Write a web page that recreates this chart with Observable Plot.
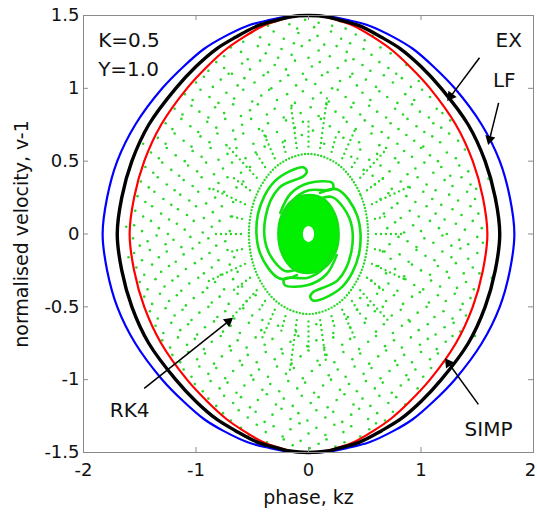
<!DOCTYPE html>
<html><head><meta charset="utf-8">
<script src="https://cdn.jsdelivr.net/npm/d3@7"></script>
<script src="https://cdn.jsdelivr.net/npm/@observablehq/plot@0.6"></script>
<style>body{margin:0;background:#fff}#chart svg{display:block}</style>
</head><body><div id="chart"></div>
<script>
const xTicks = [-2, -1, 0, 1, 2];
const yTicks = [-1.5, -1, -0.5, 0, 0.5, 1, 1.5];

// closed orbits: half-width (|phase|) read at each velocity level
const yLevels = [1.5,1.49,1.47,1.43,1.35,1.27,1.15,1.0,0.75,0.5,0.25,0,-0.25,-0.5,-0.75,-1.0,-1.15,-1.27,-1.35,-1.43,-1.47,-1.49,-1.5];
const lfHalf   = [0,0.21,0.34,0.54,0.76,0.93,1.11,1.30,1.54,1.70,1.79,1.83,1.79,1.70,1.54,1.30,1.11,0.93,0.76,0.54,0.34,0.21,0];
const exHalf   = [0,0.17,0.27,0.45,0.65,0.82,1.00,1.18,1.42,1.57,1.66,1.70,1.66,1.57,1.42,1.18,1.00,0.82,0.65,0.45,0.27,0.17,0];
const simpHalf = [0,0.15,0.25,0.40,0.58,0.73,0.90,1.08,1.31,1.46,1.55,1.59,1.55,1.46,1.31,1.08,0.90,0.73,0.58,0.40,0.25,0.15,0];

// RK4 central structure
const corePts = [[0.27,0],[0.235,0.14],[0.13,0.245],[0,0.27],[-0.14,0.235],[-0.24,0.13],[-0.27,0],[-0.235,-0.14],[-0.13,-0.245],[0,-0.27],[0.14,-0.235],[0.24,-0.13]];
const holePts = [[0.05,0],[0.035,0.04],[0,0.055],[-0.035,0.04],[-0.05,0],[-0.035,-0.04],[0,-0.055],[0.035,-0.04]];
const armL = [[-0.103,-0.282],[-0.257,-0.306],[-0.432,-0.128],[-0.449,0.137],[-0.299,0.363],[-0.048,0.458],[-0.015,0.430],[-0.042,0.398],[-0.261,0.317],[-0.382,0.117],[-0.364,-0.108],[-0.212,-0.253],[-0.114,-0.245]];
const armR = [[0.103,0.282],[0.257,0.306],[0.432,0.128],[0.449,-0.137],[0.299,-0.363],[0.048,-0.458],[0.015,-0.430],[0.042,-0.398],[0.261,-0.317],[0.382,-0.117],[0.364,0.108],[0.212,0.253],[0.114,0.245]];
const armT = [[-0.251,0.145],[-0.158,0.278],[0.004,0.350],[0.211,0.351],[0.218,0.311],[0.180,0.300],[0.004,0.300],[-0.134,0.235],[-0.208,0.120]];
const armB = [[0.251,-0.145],[0.158,-0.278],[-0.004,-0.350],[-0.211,-0.351],[-0.218,-0.311],[-0.180,-0.300],[-0.004,-0.300],[0.134,-0.235],[0.208,-0.120]];
const ringPts = [[0.53,0],[0.459,0.275],[0.265,0.476],[0,0.55],[-0.265,0.476],[-0.459,0.275],[-0.53,0],[-0.459,-0.275],[-0.265,-0.476],[0,-0.55],[0.265,-0.476],[0.459,-0.275]];
const spokes = [
[0.60,0,0.85,0],[0.591,0.104,0.709,0.125],[0.564,0.205,0.893,0.325],[0.520,0.300,0.675,0.390],[0.460,0.386,0.689,0.579],[0.386,0.460,0.450,0.536],
[0.300,0.520,0.425,0.736],[0.205,0.564,0.246,0.677],[0.104,0.591,0.165,0.936],[0,0.60,0,0.78],[-0.104,0.591,-0.157,0.887],[-0.205,0.564,-0.239,0.658],
[-0.300,0.520,-0.425,0.736],[-0.386,0.460,-0.463,0.552],[-0.460,0.386,-0.728,0.611],[-0.520,0.300,-0.675,0.390],[-0.564,0.205,-0.846,0.308],[-0.591,0.104,-0.690,0.122],
[-0.60,0,-0.85,0],[-0.591,-0.104,-0.709,-0.125],[-0.564,-0.205,-0.893,-0.325],[-0.520,-0.300,-0.675,-0.390],[-0.460,-0.386,-0.689,-0.579],[-0.386,-0.460,-0.450,-0.536],
[-0.300,-0.520,-0.425,-0.736],[-0.205,-0.564,-0.246,-0.677],[-0.104,-0.591,-0.165,-0.936],[0,-0.60,0,-0.78],[0.104,-0.591,0.157,-0.887],[0.205,-0.564,0.239,-0.658],
[0.300,-0.520,0.425,-0.736],[0.386,-0.460,0.463,-0.552],[0.460,-0.386,0.728,-0.611],[0.520,-0.300,0.675,-0.390],[0.564,-0.205,0.846,-0.308],[0.591,-0.104,0.690,-0.122]];

// RK4 scattered points (phase, v-1)
const rk4Dots = [
[-0.36,1.43],[-0.29,1.46],[-0.17,1.44],[-0.10,1.41],[-0.03,1.47],[0.05,1.42],[0.09,1.45],[0.21,1.43],[0.28,1.46],[0.33,1.41],
[-0.58,1.32],[-0.51,1.38],[-0.43,1.35],[-0.35,1.30],[-0.31,1.39],[-0.22,1.34],[-0.13,1.31],[-0.09,1.38],[0.01,1.33],[0.08,1.36],[0.14,1.30],[0.20,1.39],[0.29,1.34],[0.37,1.31],[0.42,1.37],[0.50,1.33],[0.57,1.36],
[-0.75,1.22],[-0.69,1.28],[-0.60,1.25],[-0.54,1.20],[-0.45,1.29],[-0.38,1.24],[-0.27,1.21],[-0.24,1.27],[-0.15,1.23],[-0.06,1.29],[0.00,1.21],[0.09,1.26],[0.19,1.22],[0.25,1.29],[0.34,1.25],[0.40,1.20],[0.49,1.27],[0.56,1.23],[0.64,1.28],[0.73,1.24],
[-0.89,1.12],[-0.82,1.18],[-0.75,1.14],[-0.68,1.10],[-0.59,1.17],[-0.52,1.13],[-0.43,1.19],[-0.36,1.11],[-0.30,1.16],[-0.20,1.13],[-0.12,1.19],[-0.05,1.10],[0.03,1.15],[0.10,1.18],[0.17,1.11],[0.26,1.14],[0.33,1.19],[0.39,1.10],[0.48,1.16],[0.55,1.12],[0.63,1.18],[0.71,1.14],[0.78,1.10],[0.87,1.16],
[-1.00,1.04],[-0.93,1.08],[-0.85,1.01],[-0.78,1.06],[-0.71,1.10],[-0.63,1.02],[-0.57,1.07],[-0.48,1.04],[-0.40,1.09],[-0.33,1.00],[-0.25,1.05],[-0.18,1.09],[-0.11,1.02],[-0.02,1.06],[0.06,1.03],[0.12,1.09],[0.21,1.00],[0.28,1.05],[0.37,1.08],[0.43,1.02],[0.51,1.06],[0.60,1.01],[0.67,1.09],[0.75,1.04],[0.83,1.07],[0.91,1.01],[0.98,1.05],
[-1.10,0.96],[-1.03,0.92],[-0.96,0.99],[-0.88,0.94],[-0.80,0.90],[-0.73,0.97],[-0.66,0.93],[-0.58,0.99],[-0.50,0.91],[-0.42,0.95],[-0.35,0.99],[-0.28,0.92],[-0.19,0.96],[-0.12,0.90],[-0.05,0.98],[0.04,0.93],[0.11,0.97],[0.18,0.91],[0.26,0.99],[0.33,0.94],[0.40,0.90],[0.48,0.97],[0.55,0.92],[0.63,0.98],[0.70,0.94],[0.79,0.90],[0.86,0.96],[0.94,0.92],[1.01,0.99],[1.08,0.94],
[-1.19,0.86],[-1.12,0.82],[-1.04,0.88],[-0.97,0.84],[-0.89,0.80],[-0.83,0.87],[-0.75,0.83],[-0.67,0.89],[-0.60,0.81],[-0.52,0.85],[-0.45,0.89],[-0.37,0.82],[-0.30,0.86],[-0.22,0.80],[-0.15,0.88],[-0.07,0.83],[0.02,0.87],[0.09,0.81],[0.16,0.89],[0.24,0.84],[0.31,0.80],[0.38,0.87],[0.46,0.82],[0.54,0.88],[0.61,0.84],[0.69,0.80],[0.77,0.86],[0.84,0.82],[0.92,0.89],[0.99,0.84],[1.07,0.80],[1.14,0.86],[1.19,0.83],
[-1.27,0.76],[-1.21,0.72],[-1.13,0.79],[-1.05,0.74],[-0.98,0.70],[-0.90,0.77],[-0.82,0.73],[-0.74,0.79],[-0.67,0.71],[-0.59,0.75],[-0.51,0.79],[-0.44,0.72],[-0.36,0.76],[-0.28,0.70],[-0.20,0.78],[-0.12,0.73],[-0.05,0.77],[0.04,0.71],[0.11,0.79],[0.19,0.74],[0.27,0.70],[0.34,0.77],[0.42,0.72],[0.50,0.78],[0.57,0.74],[0.65,0.70],[0.73,0.76],[0.80,0.72],[0.88,0.79],[0.96,0.74],[1.03,0.70],[1.11,0.76],[1.18,0.73],[1.26,0.78],
[-1.34,0.66],[-1.27,0.62],[-1.19,0.69],[-1.11,0.64],[-1.04,0.60],[-0.96,0.67],[-0.88,0.63],[-0.81,0.69],[-0.73,0.61],[-0.65,0.65],[-0.58,0.69],[-0.49,0.62],[-0.38,0.67],[-0.21,0.64],[-0.06,0.68],[0.14,0.62],[0.31,0.66],[0.45,0.63],[0.56,0.69],[0.63,0.61],[0.71,0.66],[0.79,0.62],[0.87,0.68],[0.94,0.64],[1.02,0.60],[1.10,0.67],[1.17,0.63],[1.25,0.69],[1.33,0.64],
[-1.40,0.56],[-1.33,0.52],[-1.26,0.59],[-1.18,0.54],[-1.10,0.50],[-1.03,0.57],[-0.95,0.53],[-0.87,0.59],[-0.80,0.51],[-0.72,0.55],[-0.64,0.59],[-0.56,0.52],[-0.47,0.56],[-0.39,0.60],[0.38,0.53],[0.46,0.58],[0.54,0.51],[0.61,0.55],[0.69,0.59],[0.77,0.52],[0.85,0.57],[0.92,0.53],[1.00,0.59],[1.08,0.54],[1.15,0.50],[1.23,0.56],[1.31,0.52],[1.39,0.58],
[-1.45,0.46],[-1.38,0.42],[-1.30,0.49],[-1.22,0.44],[-1.15,0.40],[-1.07,0.47],[-0.99,0.43],[-0.91,0.49],[-0.84,0.41],[-0.76,0.45],[-0.68,0.49],[-0.60,0.42],[-0.52,0.46],[0.49,0.44],[0.57,0.40],[0.64,0.47],[0.72,0.43],[0.80,0.49],[0.88,0.41],[0.95,0.45],[1.03,0.49],[1.11,0.42],[1.18,0.46],[1.26,0.40],[1.34,0.47],[1.42,0.43],
[-1.49,0.36],[-1.42,0.32],[-1.34,0.39],[-1.26,0.34],[-1.19,0.30],[-1.11,0.37],[-1.03,0.33],[-0.95,0.39],[-0.88,0.31],[-0.80,0.35],[-0.72,0.39],[-0.64,0.32],[-0.58,0.36],[0.59,0.34],[0.66,0.38],[0.74,0.31],[0.82,0.36],[0.90,0.32],[0.97,0.39],[1.05,0.34],[1.13,0.30],[1.21,0.37],[1.28,0.33],[1.36,0.39],[1.44,0.34],[1.49,0.31],
[-1.52,0.26],[-1.45,0.22],[-1.37,0.29],[-1.29,0.24],[-1.22,0.20],[-1.14,0.27],[-1.06,0.23],[-0.98,0.29],[-0.91,0.21],[-0.83,0.25],[-0.75,0.29],[-0.67,0.22],[0.64,0.24],[0.71,0.28],[0.79,0.21],[0.87,0.26],[0.95,0.22],[1.02,0.29],[1.10,0.24],[1.18,0.20],[1.25,0.27],[1.33,0.23],[1.41,0.29],[1.48,0.24],
[-1.54,0.16],[-1.47,0.12],[-1.39,0.19],[-1.31,0.14],[-1.24,0.10],[-1.16,0.17],[-1.08,0.13],[-1.00,0.19],[-0.93,0.11],[-0.85,0.15],[-0.77,0.19],[-0.69,0.12],[0.67,0.14],[0.74,0.18],[0.82,0.11],[0.90,0.16],[0.98,0.12],[1.05,0.19],[1.13,0.14],[1.21,0.10],[1.28,0.17],[1.36,0.13],[1.44,0.19],[1.51,0.14],
[-1.55,0.06],[-1.48,0.02],[-1.40,0.09],[-1.33,0.04],[-1.25,0.00],[-1.17,0.07],[-1.10,0.03],[-1.02,0.09],[-0.94,0.01],[-0.86,0.05],[-0.79,0.09],[-0.70,0.02],[0.70,0.04],[0.77,0.08],[0.85,0.01],[0.93,0.06],[1.00,0.02],[1.08,0.09],[1.16,0.04],[1.23,0.00],[1.31,0.07],[1.39,0.03],[1.46,0.09],[1.54,0.04],
[-1.56,-0.03],[-1.50,-0.08],[-1.43,-0.05],[-1.35,-0.01],[-1.27,-0.07],[-1.20,-0.04],[-1.13,-0.09],[-1.05,-0.02],[-0.97,-0.06],[-0.89,-0.03],[-0.82,-0.08],[-0.74,-0.05],[0.72,-0.07],[0.80,-0.02],[0.88,-0.05],[0.96,-0.09],[1.03,-0.03],[1.11,-0.06],[1.19,-0.01],[1.27,-0.08],[1.34,-0.04],[1.42,-0.07],[1.50,-0.02],[1.55,-0.06],
[-1.55,-0.13],[-1.48,-0.18],[-1.41,-0.11],[-1.33,-0.16],[-1.26,-0.12],[-1.18,-0.19],[-1.11,-0.14],[-1.03,-0.10],[-0.95,-0.17],[-0.88,-0.13],[-0.80,-0.18],[-0.72,-0.11],[-0.66,-0.16],[0.66,-0.12],[0.73,-0.17],[0.81,-0.14],[0.89,-0.19],[0.96,-0.11],[1.04,-0.15],[1.12,-0.18],[1.19,-0.12],[1.27,-0.16],[1.35,-0.10],[1.42,-0.17],[1.50,-0.13],
[-1.53,-0.23],[-1.46,-0.28],[-1.39,-0.21],[-1.31,-0.26],[-1.24,-0.22],[-1.16,-0.29],[-1.09,-0.24],[-1.01,-0.20],[-0.93,-0.27],[-0.86,-0.23],[-0.78,-0.28],[-0.70,-0.21],[-0.63,-0.26],[0.62,-0.22],[0.69,-0.27],[0.77,-0.24],[0.85,-0.29],[0.92,-0.21],[1.00,-0.25],[1.08,-0.28],[1.15,-0.22],[1.23,-0.26],[1.31,-0.20],[1.38,-0.27],[1.46,-0.23],[1.52,-0.27],
[-1.50,-0.33],[-1.43,-0.38],[-1.36,-0.31],[-1.28,-0.36],[-1.21,-0.32],[-1.13,-0.39],[-1.06,-0.34],[-0.98,-0.30],[-0.90,-0.37],[-0.83,-0.33],[-0.75,-0.38],[-0.67,-0.31],[-0.59,-0.36],[0.56,-0.32],[0.63,-0.37],[0.71,-0.34],[0.79,-0.39],[0.86,-0.31],[0.94,-0.35],[1.02,-0.38],[1.09,-0.32],[1.17,-0.36],[1.25,-0.30],[1.32,-0.37],[1.40,-0.33],[1.47,-0.38],
[-1.46,-0.43],[-1.39,-0.48],[-1.32,-0.41],[-1.24,-0.46],[-1.17,-0.42],[-1.09,-0.49],[-1.02,-0.44],[-0.94,-0.40],[-0.86,-0.47],[-0.79,-0.43],[-0.71,-0.48],[-0.63,-0.41],[-0.55,-0.46],[-0.47,-0.42],[0.46,-0.44],[0.53,-0.49],[0.61,-0.41],[0.69,-0.46],[0.76,-0.42],[0.84,-0.48],[0.92,-0.43],[0.99,-0.40],[1.07,-0.47],[1.15,-0.42],[1.22,-0.46],[1.30,-0.41],[1.37,-0.48],[1.44,-0.44],
[-1.41,-0.53],[-1.34,-0.58],[-1.27,-0.51],[-1.19,-0.56],[-1.12,-0.52],[-1.04,-0.59],[-0.97,-0.54],[-0.89,-0.50],[-0.81,-0.57],[-0.74,-0.53],[-0.66,-0.58],[-0.58,-0.51],[-0.50,-0.56],[-0.41,-0.59],[0.35,-0.57],[0.43,-0.52],[0.51,-0.58],[0.59,-0.53],[0.66,-0.50],[0.74,-0.56],[0.82,-0.52],[0.89,-0.59],[0.97,-0.54],[1.05,-0.50],[1.12,-0.57],[1.20,-0.53],[1.28,-0.58],[1.35,-0.52],[1.40,-0.56],
[-1.36,-0.63],[-1.29,-0.68],[-1.22,-0.61],[-1.14,-0.66],[-1.07,-0.62],[-0.99,-0.69],[-0.92,-0.64],[-0.84,-0.60],[-0.76,-0.67],[-0.69,-0.63],[-0.61,-0.68],[-0.53,-0.61],[-0.42,-0.66],[-0.27,-0.63],[-0.11,-0.67],[0.07,-0.62],[0.22,-0.68],[0.37,-0.64],[0.50,-0.61],[0.60,-0.67],[0.67,-0.62],[0.75,-0.68],[0.83,-0.63],[0.90,-0.60],[0.98,-0.66],[1.06,-0.62],[1.13,-0.69],[1.21,-0.64],[1.29,-0.61],[1.35,-0.67],
[-1.30,-0.73],[-1.23,-0.78],[-1.16,-0.71],[-1.08,-0.76],[-1.01,-0.72],[-0.93,-0.79],[-0.86,-0.74],[-0.78,-0.70],[-0.70,-0.77],[-0.63,-0.73],[-0.55,-0.78],[-0.47,-0.71],[-0.39,-0.76],[-0.32,-0.72],[-0.24,-0.79],[-0.16,-0.74],[-0.09,-0.70],[-0.01,-0.77],[0.07,-0.73],[0.14,-0.78],[0.22,-0.71],[0.30,-0.76],[0.37,-0.72],[0.45,-0.79],[0.53,-0.74],[0.60,-0.70],[0.68,-0.77],[0.76,-0.73],[0.83,-0.78],[0.91,-0.71],[0.99,-0.76],[1.06,-0.72],[1.14,-0.79],[1.22,-0.74],[1.28,-0.70],
[-1.21,-0.83],[-1.14,-0.88],[-1.07,-0.81],[-0.99,-0.86],[-0.92,-0.82],[-0.84,-0.89],[-0.77,-0.84],[-0.69,-0.80],[-0.61,-0.87],[-0.54,-0.83],[-0.46,-0.88],[-0.38,-0.81],[-0.30,-0.86],[-0.23,-0.82],[-0.15,-0.89],[-0.07,-0.84],[0.00,-0.80],[0.08,-0.87],[0.16,-0.83],[0.23,-0.88],[0.31,-0.81],[0.39,-0.86],[0.46,-0.82],[0.54,-0.89],[0.62,-0.84],[0.69,-0.80],[0.77,-0.87],[0.85,-0.83],[0.92,-0.88],[1.00,-0.81],[1.08,-0.86],[1.15,-0.82],[1.20,-0.88],
[-1.11,-0.93],[-1.04,-0.98],[-0.97,-0.91],[-0.89,-0.96],[-0.82,-0.92],[-0.74,-0.99],[-0.67,-0.94],[-0.59,-0.90],[-0.51,-0.97],[-0.44,-0.93],[-0.36,-0.98],[-0.28,-0.91],[-0.20,-0.96],[-0.13,-0.92],[-0.05,-0.99],[0.03,-0.94],[0.10,-0.90],[0.18,-0.97],[0.26,-0.93],[0.33,-0.98],[0.41,-0.91],[0.49,-0.96],[0.56,-0.92],[0.64,-0.99],[0.72,-0.94],[0.79,-0.90],[0.87,-0.97],[0.95,-0.93],[1.02,-0.98],[1.09,-0.92],
[-1.01,-1.03],[-0.94,-1.08],[-0.87,-1.01],[-0.79,-1.06],[-0.72,-1.02],[-0.64,-1.09],[-0.57,-1.04],[-0.49,-1.00],[-0.41,-1.07],[-0.34,-1.03],[-0.26,-1.08],[-0.18,-1.01],[-0.10,-1.06],[-0.03,-1.02],[0.05,-1.09],[0.13,-1.04],[0.20,-1.00],[0.28,-1.07],[0.36,-1.03],[0.43,-1.08],[0.51,-1.01],[0.59,-1.06],[0.66,-1.02],[0.74,-1.09],[0.82,-1.04],[0.89,-1.00],[0.97,-1.06],
[-0.89,-1.13],[-0.82,-1.18],[-0.75,-1.11],[-0.67,-1.16],[-0.60,-1.12],[-0.52,-1.19],[-0.45,-1.14],[-0.37,-1.10],[-0.29,-1.17],[-0.22,-1.13],[-0.14,-1.18],[-0.06,-1.11],[0.02,-1.16],[0.09,-1.12],[0.17,-1.19],[0.25,-1.14],[0.32,-1.10],[0.40,-1.17],[0.48,-1.13],[0.55,-1.18],[0.63,-1.11],[0.71,-1.16],[0.78,-1.12],[0.86,-1.17],
[-0.76,-1.23],[-0.69,-1.28],[-0.62,-1.21],[-0.54,-1.26],[-0.47,-1.22],[-0.39,-1.29],[-0.32,-1.24],[-0.24,-1.20],[-0.16,-1.27],[-0.09,-1.23],[-0.01,-1.28],[0.07,-1.21],[0.15,-1.26],[0.22,-1.22],[0.30,-1.29],[0.38,-1.24],[0.45,-1.20],[0.53,-1.27],[0.61,-1.23],[0.68,-1.28],[0.75,-1.22],
[-0.60,-1.33],[-0.53,-1.38],[-0.46,-1.31],[-0.38,-1.36],[-0.31,-1.32],[-0.23,-1.39],[-0.16,-1.34],[-0.08,-1.30],[0.00,-1.37],[0.07,-1.33],[0.15,-1.38],[0.23,-1.31],[0.31,-1.36],[0.38,-1.32],[0.46,-1.39],[0.54,-1.34],[0.60,-1.30],
[-0.37,-1.43],[-0.30,-1.47],[-0.22,-1.41],[-0.14,-1.45],[-0.07,-1.42],[0.01,-1.47],[0.09,-1.44],[0.16,-1.41],[0.24,-1.46],[0.32,-1.43],[0.38,-1.46],
[-1.62,0.05],[-1.60,-0.16],[1.63,-0.30],[1.60,0.38],[1.48,-0.70],[-1.47,0.62]
];

// annotations
const labels = ["EX", "LF", "RK4", "SIMP"];
const labelX = [1.78, 1.74, -1.59, 1.60];
const labelY = [1.33, 1.05, -1.21, -1.34];
const arrowX1 = [1.52, 1.69, -1.46, 1.51];
const arrowY1 = [1.21, 0.90, -1.06, -1.17];
const arrowX2 = [1.24, 1.60, -0.68, 1.22];
const arrowY2 = [0.92, 0.62, -0.58, -0.86];
const params = ["K=0.5", "Y=1.0"];
const paramY = [1.325, 1.126];

function loop(half) {
  const right = yLevels.map((y, i) => ({x: half[i], y}));
  const left = [];
  for (let i = yLevels.length - 2; i >= 1; i--) left.push({x: -half[i], y: yLevels[i]});
  return right.concat(left);
}
const pts = a => a.map(([x, y]) => ({x, y}));
const labelData = labels.map((l, i) => ({l, x: labelX[i], y: labelY[i]}));
const paramData = params.map((p, i) => ({p, y: paramY[i]}));
const spokeData = spokes.map(([x1, y1, x2, y2]) => ({x1, y1, x2, y2}));

// layout
const W = 537, H = 514, mL = 83, mR = 4, mT = 15, mB = 62;
const kx = (W - mL - mR) / 4, ky = (H - mT - mB) / 3; // px per data unit
// arrow shafts + filled triangular heads
const arrowHeads = [], arrowShafts = [];
labels.forEach((l, i) => {
  const sx = (arrowX2[i] - arrowX1[i]) * kx, sy = -(arrowY2[i] - arrowY1[i]) * ky;
  const len = Math.hypot(sx, sy), ux = sx / len, uy = sy / len;
  const rot = Math.atan2(ux, -uy) * 180 / Math.PI;
  arrowHeads.push({x: arrowX2[i] - 4.6 * ux / kx, y: arrowY2[i] + 4.6 * uy / ky, rot});
  arrowShafts.push({x1: arrowX1[i], y1: arrowY1[i], x2: arrowX2[i] - 7 * ux / kx, y2: arrowY2[i] + 7 * uy / ky});
});

const G = "#11e011", DOT = "#2ad82a";
const axisColor = "#8a8a8a";
const font = "'DejaVu Sans', Verdana, sans-serif";
const tickText = {y: -1.5, dy: 18, text: d => String(d), fontSize: 18, lineAnchor: "middle", textAnchor: "middle", fill: "#111"};

const chart = Plot.plot({
  width: W, height: H,
  marginLeft: mL, marginRight: mR, marginTop: mT, marginBottom: mB,
  style: {fontFamily: font, fontSize: "18px", color: "black", background: "white"},
  x: {domain: [-2, 2], axis: null},
  y: {domain: [-1.5, 1.5], axis: null},
  marks: [
    Plot.dot(pts(rk4Dots), {x: "x", y: "y", r: 1.3, fill: DOT, stroke: "none"}),
    Plot.link(spokeData, {x1: "x1", y1: "y1", x2: "x2", y2: "y2", stroke: DOT, strokeWidth: 2.4, strokeDasharray: "0,5", strokeLinecap: "round"}),
    Plot.line(pts(ringPts), {x: "x", y: "y", curve: "catmull-rom-closed", stroke: DOT, strokeWidth: 2.4, strokeDasharray: "0,3.3", strokeLinecap: "round"}),
    Plot.line(pts(corePts), {x: "x", y: "y", curve: "catmull-rom-closed", fill: "#00f000", stroke: G, strokeWidth: 2}),
    Plot.line(pts(holePts), {x: "x", y: "y", curve: "catmull-rom-closed", fill: "white", stroke: "none"}),
    ...[armL, armR, armT, armB].map(a => Plot.line(pts(a), {x: "x", y: "y", curve: "catmull-rom", stroke: G, strokeWidth: 2.6})),
    Plot.line(loop(lfHalf), {x: "x", y: "y", curve: "catmull-rom-closed", stroke: "#0000ff", strokeWidth: 2.2}),
    Plot.line(loop(simpHalf), {x: "x", y: "y", curve: "catmull-rom-closed", stroke: "#ff0000", strokeWidth: 2.2}),
    Plot.line(loop(exHalf), {x: "x", y: "y", curve: "catmull-rom-closed", stroke: "black", strokeWidth: 3.4}),
    Plot.frame({stroke: axisColor}),
    Plot.ruleX(xTicks, {x: d => d, y1: -1.5, y2: -1.466, stroke: axisColor}),
    Plot.ruleX(xTicks, {x: d => d, y1: 1.5, y2: 1.466, stroke: axisColor}),
    Plot.ruleY(yTicks, {y: d => d, x1: -2, x2: -1.956, stroke: axisColor}),
    Plot.ruleY(yTicks, {y: d => d, x1: 2, x2: 1.956, stroke: axisColor}),
    Plot.text(xTicks.slice(0, -1), {x: d => d, ...tickText}),
    Plot.text(xTicks.slice(-1), {x: d => d, ...tickText, dx: -3}),
    Plot.text(yTicks, {x: -2, y: d => d, dx: -4, text: d => String(d), textAnchor: "end", lineAnchor: "middle", fontSize: 18, fill: "#111"}),
    Plot.link(arrowShafts, {x1: "x1", y1: "y1", x2: "x2", y2: "y2", stroke: "black", strokeWidth: 1.5}),
    Plot.dot(arrowHeads, {x: "x", y: "y", symbol: "triangle", r: 3.8, rotate: "rot", fill: "black", stroke: "none"}),
    Plot.text(labelData, {x: "x", y: "y", text: "l", fontSize: 20, fill: "#111"}),
    Plot.text(paramData, {x: -1.87, y: "y", text: "p", textAnchor: "start", fontSize: 20, fill: "#111"}),
    Plot.text(["phase, kz"], {frameAnchor: "bottom", dy: 45, lineAnchor: "middle", textAnchor: "middle", fontSize: 19, fill: "#111"}),
    Plot.text(["normalised velocity, v-1"], {frameAnchor: "left", dx: -62, rotate: -90, textAnchor: "middle", lineAnchor: "middle", fontSize: 19, fill: "#111"})
  ]
});
document.getElementById("chart").append(chart);
</script>
</body></html>
